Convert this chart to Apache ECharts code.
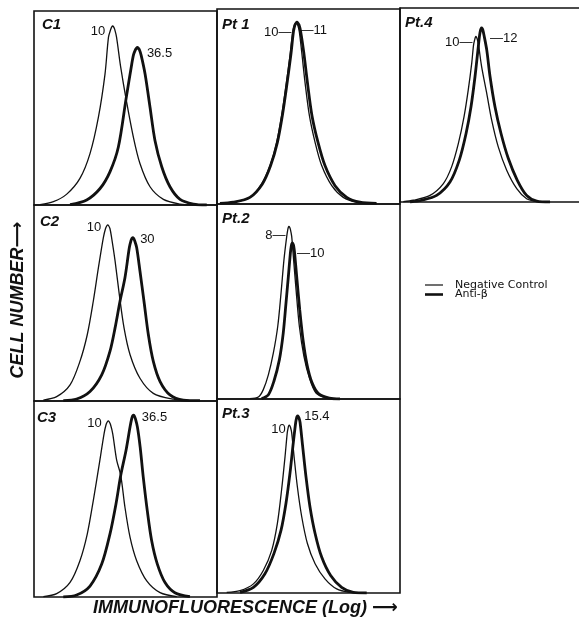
<!DOCTYPE html>
<html><head><meta charset="utf-8">
<script src="https://cdn.jsdelivr.net/npm/echarts@6/dist/echarts.min.js"></script>
<style>html,body{margin:0;padding:0;background:#fff}#c{width:579px;height:622px}</style>
</head><body><div id="c"></div>
<script>
// ---- data (x: log fluorescence channel, 0-100 of panel; y: relative cell number, 0-100) ----
const panelNames = ['C1', 'Pt 1', 'Pt.4', 'C2', 'Pt.2', 'C3', 'Pt.3'];
const controlLabels = ['10', '10', '10', '10', '8', '10', '10'];
const antiLabels = ['36.5', '11', '12', '30', '10', '36.5', '15.4'];
const seriesNames = ['Negative Control', 'Anti-β'];

const c1Control = [[3.3,0.2],[10.6,1.7],[17.9,5.6],[25.1,13.7],[30.6,26.5],[35.2,45.3],[38.8,67.5],[40.7,86.5],[41.9,90.5],[42.5,91.8],[43.0,92.3],[43.5,91.8],[44.1,90.5],[45.1,86.5],[47.4,70.9],[50.3,54.7],[54.3,35.0],[57.9,21.4],[63.4,9.4],[70.7,2.9],[79.8,0.5],[87.1,0]];
const c1Anti = [[19.7,0.2],[28.8,2.6],[36.1,8.5],[41.5,17.1],[46.1,29.9],[50.3,54.7],[53.4,72.6],[54.4,77.5],[55.4,80.0],[56.0,80.8],[56.5,81.2],[57.0,80.8],[57.6,80.0],[58.6,77.0],[60.7,67.5],[63.4,50.4],[66.1,33.3],[69.8,19.7],[74.3,9.4],[79.8,2.9],[87.1,0.5],[94.4,0]];

const pt1Control = [[1.6,0.3],[8.9,0.9],[18.0,3.4],[24.4,10.3],[29.0,19.7],[32.6,31.6],[35.3,45.3],[37.7,60.7],[39.9,76.1],[41.4,88.3],[42.2,91.5],[42.7,92.4],[43.2,92.8],[43.7,92.4],[44.2,91.5],[45.0,88.3],[46.3,77.8],[48.1,62.4],[50.5,45.3],[53.6,31.6],[57.2,19.7],[62.7,9.4],[69.0,3.4],[76.3,0.9],[85.4,0.3]];
const pt1Anti = [[1.6,0.3],[8.9,0.9],[18.0,3.4],[24.8,10.3],[29.3,19.7],[33.0,31.6],[35.7,45.3],[38.1,60.7],[40.3,76.1],[41.8,88.5],[42.6,91.9],[43.2,92.8],[43.7,93.2],[44.2,92.8],[44.8,91.9],[45.7,88.5],[47.4,77.8],[49.4,62.4],[51.9,45.3],[55.2,31.6],[59.0,19.7],[64.5,9.4],[70.9,3.4],[78.1,0.9],[87.2,0.3]];

const pt4Control = [[1.8,0.2],[7.3,0.9],[16.4,3.4],[23.7,9.5],[28.2,18.1],[31.9,30.2],[35.0,44.0],[37.3,57.8],[39.2,71.6],[40.2,81.0],[40.9,84.0],[41.2,84.9],[41.5,85.3],[41.8,84.9],[42.2,84.0],[42.9,81.0],[44.6,69.8],[47.4,56.0],[50.1,42.2],[53.7,28.4],[58.3,16.4],[63.8,6.9],[69.2,1.7],[74.7,0.3]];
const pt4Anti = [[5.5,0],[11.8,0.9],[20.0,3.4],[27.3,10.3],[32.4,21.6],[36.1,35.3],[38.8,49.1],[41.0,64.7],[42.6,78.4],[43.5,86.0],[44.0,88.6],[44.3,89.4],[44.6,89.7],[44.9,89.4],[45.3,88.6],[45.9,86.0],[47.4,78.4],[49.2,64.7],[51.9,49.1],[55.2,35.3],[59.2,22.4],[64.1,11.2],[69.2,3.4],[74.7,0.5],[82.0,0]];

const c2Control = [[5.1,0.5],[12.4,2.2],[19.7,8.2],[25.1,20.2],[29.1,33.8],[32.4,50.9],[35.2,68.0],[37.9,83.4],[39.1,88.0],[39.8,89.4],[40.3,89.9],[40.8,89.4],[41.5,88.0],[42.4,83.4],[44.3,71.5],[46.6,54.4],[49.2,37.3],[52.5,23.6],[57.9,11.6],[65.2,3.9],[76.1,0.9],[85.2,0.2]];
const c2Anti = [[16.0,0.2],[23.3,1.0],[30.6,4.8],[37.0,13.3],[41.5,25.3],[44.3,37.3],[47.0,50.9],[49.7,62.9],[52.1,78.3],[53.0,81.8],[53.5,83.0],[53.9,83.4],[54.4,83.0],[55.0,81.8],[56.1,78.3],[57.9,66.3],[60.1,50.9],[62.5,33.8],[65.2,20.2],[68.9,9.9],[74.3,3.1],[81.6,0.5],[90.7,0.2]];

const pt2Control = [[18.0,0.2],[22.6,1.0],[25.3,4.8],[28.1,12.5],[30.8,23.6],[33.2,37.3],[35.0,54.4],[36.6,71.5],[38.1,83.4],[38.7,87.0],[39.0,88.1],[39.3,88.5],[39.7,88.1],[40.1,87.0],[40.8,83.5],[41.7,73.2],[43.2,56.1],[45.0,37.3],[47.5,21.9],[50.5,10.8],[54.1,3.1],[59.9,0.5]];
const pt2Anti = [[24.4,0.2],[28.1,2.2],[31.1,9.1],[34.1,20.2],[36.2,33.8],[37.7,49.2],[39.0,62.9],[40.1,74.9],[40.6,78.5],[40.9,79.6],[41.2,80.0],[41.5,79.6],[41.9,78.5],[42.4,74.9],[43.7,61.2],[45.2,45.8],[47.0,30.4],[49.2,17.6],[51.9,8.5],[55.6,2.7],[61.4,0.5],[67.2,0]];

const c3Control = [[5.1,0.2],[12.4,1.7],[19.7,7.4],[25.1,18.5],[29.1,32.1],[32.4,49.2],[35.7,68.0],[38.3,83.4],[39.4,88.0],[40.1,89.4],[40.6,89.9],[41.1,89.4],[41.8,88.0],[43.0,83.4],[45.2,69.7],[47.4,62.1],[49.7,45.8],[52.5,30.4],[56.1,18.5],[61.6,8.2],[68.9,2.2],[78.0,0.2]];
const c3Anti = [[16.0,0],[23.3,1.0],[30.6,5.6],[37.0,16.8],[41.5,32.1],[44.8,47.5],[47.4,62.1],[50.3,74.9],[52.5,86.8],[53.4,91.0],[53.9,92.4],[54.3,92.8],[54.8,92.4],[55.4,91.0],[56.5,86.8],[58.0,76.6],[59.7,61.2],[61.9,44.1],[64.3,28.7],[67.4,16.8],[71.6,7.4],[77.0,2.2],[85.2,0.2]];

const pt3Control = [[5.3,0.3],[12.6,1.2],[19.9,4.7],[25.3,11.6],[29.9,22.0],[33.0,35.9],[35.3,53.2],[37.2,70.5],[38.4,82.7],[38.9,85.3],[39.2,86.2],[39.5,86.5],[39.8,86.2],[40.2,85.3],[40.8,82.7],[42.1,70.5],[43.9,54.9],[46.3,39.3],[49.4,25.5],[53.6,15.1],[59.0,7.3],[65.4,2.1],[72.7,0.3]];
const pt3Anti = [[12.6,0.3],[19.9,2.9],[26.2,9.9],[31.1,20.3],[35.0,32.4],[37.7,46.3],[39.9,61.9],[41.7,77.5],[43.0,87.9],[43.5,90.3],[43.8,91.0],[44.1,91.3],[44.4,91.0],[44.8,90.3],[45.4,87.9],[46.8,75.7],[48.6,60.1],[50.8,44.5],[53.6,30.7],[57.2,18.5],[62.1,9.0],[68.1,2.9],[74.5,0.3],[81.8,0]];

const controlData = [c1Control, pt1Control, pt4Control, c2Control, pt2Control, c3Control, pt3Control];
const antiData = [c1Anti, pt1Anti, pt4Anti, c2Anti, pt2Anti, c3Anti, pt3Anti];

// ---- layout / style ----
const grids = [
  {left: 34, top: 11, width: 183, height: 194},
  {left: 217, top: 9, width: 183, height: 195},
  {left: 400, top: 8, width: 179, height: 194},
  {left: 34, top: 205, width: 183, height: 196},
  {left: 217, top: 204, width: 183, height: 195},
  {left: 34, top: 401, width: 183, height: 196},
  {left: 217, top: 399, width: 183, height: 194}
];
const openRight = [false, false, true, false, false, false, false];
const titlePos = [[42,17],[222,17],[405,15],[40,214],[222,211],[37,410],[222,406]];
const labelStyle = [
  {c: {d: 7, dy: 5}, a: {d: 9, dy: 6}},
  {c: {d: 4, dy: 9, lead: true}, a: {d: 3, dy: 8, lead: true}},
  {c: {d: 3, dy: 6, lead: true}, a: {d: 8, dy: 10, lead: true}},
  {c: {d: 6, dy: 3}, a: {d: 7, dy: 2}},
  {c: {d: 3, dy: 9, lead: true}, a: {d: 4, dy: 10, lead: true}},
  {c: {d: 6, dy: 3}, a: {d: 8, dy: 2}},
  {c: {d: 3, dy: 4}, a: {d: 6, dy: 1}}
];
const INK = '#111';
const BORDER_W = 1.6;
const NUM_FONT = 'Liberation Sans, DejaVu Sans, sans-serif';
const TITLE_FONT = 'Liberation Sans, DejaVu Sans, sans-serif';

function peak(arr) {
  let best = arr[0];
  arr.forEach(p => { if (p[1] > best[1]) best = p; });
  return best;
}

const legendText = {fontSize: 11, lineHeight: 11, color: INK, fontFamily: 'DejaVu Sans, sans-serif', padding: [0, 0, 0, 7]};
const option = {
  backgroundColor: '#fff',
  animation: false,
  grid: [], xAxis: [], yAxis: [], series: [], title: [],
  legend: [
    {data: [seriesNames[0]], left: 425, top: 279.5, orient: 'vertical', padding: 0,
     itemWidth: 18, itemHeight: 1.2, icon: 'rect', selectedMode: false,
     itemStyle: {color: INK, borderWidth: 0}, textStyle: legendText},
    {data: [seriesNames[1]], left: 425, top: 289, orient: 'vertical', padding: 0,
     itemWidth: 18, itemHeight: 2.6, icon: 'rect', selectedMode: false,
     itemStyle: {color: INK, borderWidth: 0}, textStyle: legendText}
  ],
  graphic: [
    {type: 'text', x: 18, y: 300, rotation: Math.PI / 2,
     style: {text: 'CELL NUMBER\u27F6', align: 'center', verticalAlign: 'middle', fill: INK,
             font: 'italic bold 18px Liberation Sans, DejaVu Sans, sans-serif'}},
    {type: 'text', x: 93, y: 608,
     style: {text: 'IMMUNOFLUORESCENCE (Log) \u27F6', align: 'left', verticalAlign: 'middle', fill: INK,
             font: 'italic bold 18px Liberation Sans, DejaVu Sans, sans-serif'}}
  ]
};

function markFor(arr, text, st, side) {
  const p = peak(arr);
  const t = st.lead ? (side === 'left' ? text + '\u2014' : '\u2014' + text) : text;
  return {
    symbol: 'circle', symbolSize: 1, silent: true,
    itemStyle: {color: 'rgba(0,0,0,0)'},
    data: [{coord: [p[0], p[1]], value: t}],
    label: {show: true, position: side, distance: st.d, offset: [0, st.dy],
            formatter: t, fontSize: 13, color: INK, fontFamily: NUM_FONT}
  };
}

const axisLineOn = {show: true, onZero: false, lineStyle: {color: INK, width: BORDER_W}};
const extraX = [];
panelNames.forEach((name, i) => {
  const g = grids[i];
  const open = openRight[i];
  option.grid.push(Object.assign({show: !open, borderColor: INK, borderWidth: BORDER_W,
    backgroundColor: 'rgba(0,0,0,0)', outerBoundsMode: 'none'}, g));
  const xMax = 100 * g.width / 183;
  if (open) {
    option.xAxis.push({type: 'value', gridIndex: i, min: 0, max: xMax, position: 'bottom',
      axisLine: axisLineOn, axisTick: {show: false}, axisLabel: {show: false}, splitLine: {show: false}});
    extraX.push({type: 'value', gridIndex: i, min: 0, max: xMax, position: 'top',
      axisLine: axisLineOn, axisTick: {show: false}, axisLabel: {show: false}, splitLine: {show: false}});
    option.yAxis.push({type: 'value', gridIndex: i, min: 0, max: 100, position: 'left',
      axisLine: axisLineOn, axisTick: {show: false}, axisLabel: {show: false}, splitLine: {show: false}});
  } else {
    option.xAxis.push({type: 'value', gridIndex: i, min: 0, max: xMax, show: false});
    option.yAxis.push({type: 'value', gridIndex: i, min: 0, max: 100, show: false});
  }
  option.title.push({text: name, left: titlePos[i][0], top: titlePos[i][1], padding: 0,
    textStyle: {fontStyle: 'italic', fontWeight: 'bold', fontSize: 15, color: INK, fontFamily: TITLE_FONT}});
  option.series.push({
    name: seriesNames[0], type: 'line', xAxisIndex: i, yAxisIndex: i,
    data: controlData[i], showSymbol: false, smooth: 0.3, color: INK,
    lineStyle: {width: 1.3, color: INK},
    markPoint: markFor(controlData[i], controlLabels[i], labelStyle[i].c, 'left')
  });
  option.series.push({
    name: seriesNames[1], type: 'line', xAxisIndex: i, yAxisIndex: i,
    data: antiData[i], showSymbol: false, smooth: 0.3, color: INK,
    lineStyle: {width: 2.8, color: INK},
    markPoint: markFor(antiData[i], antiLabels[i], labelStyle[i].a, 'right')
  });
});
extraX.forEach(a => option.xAxis.push(a));

const chart = echarts.init(document.getElementById('c'), null, {renderer: 'canvas'});
chart.setOption(option);
</script>
</body></html>
